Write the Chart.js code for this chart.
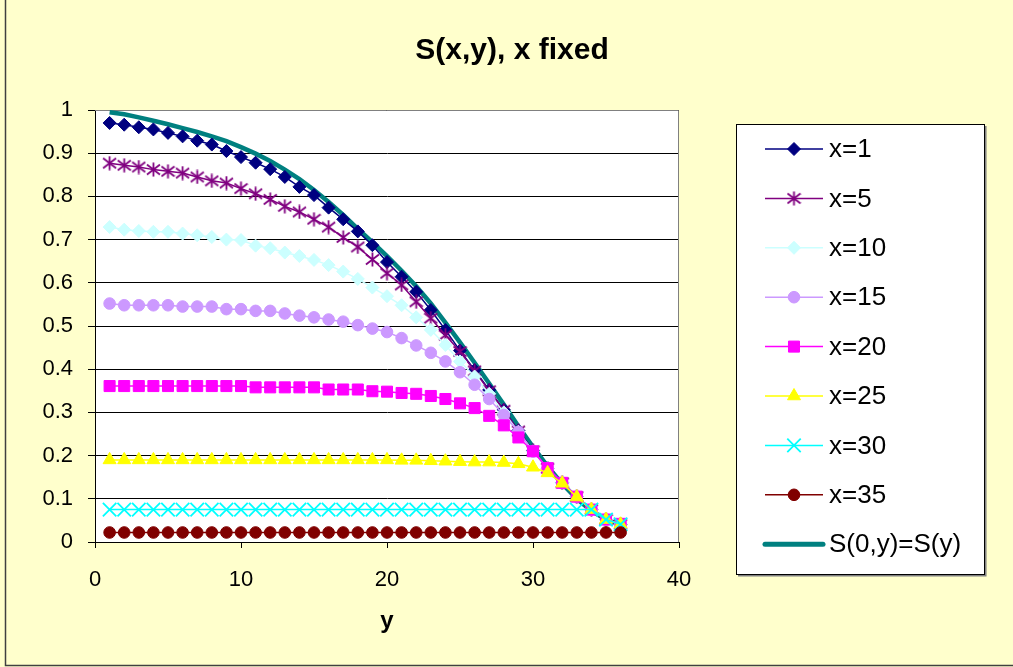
<!DOCTYPE html>
<html>
<head>
<meta charset="utf-8">
<script src="https://cdn.jsdelivr.net/npm/chart.js@4/dist/chart.umd.min.js"></script>
<style>
  html, body { margin: 0; padding: 0; background: #FFFFCC; }
  canvas { display: block; }
</style>
</head>
<body>
<canvas id="c" width="1013" height="667"></canvas>
<script>
// ---------- data ----------
const categories = [1,2,3,4,5,6,7,8,9,10,11,12,13,14,15,16,17,18,19,20,21,22,23,24,25,26,27,28,29,30,31,32,33,34,35,36];

const seriesX1 = [0.970,0.966,0.960,0.955,0.947,0.939,0.929,0.920,0.905,0.891,0.878,0.863,0.845,0.822,0.803,0.774,0.747,0.719,0.687,0.648,0.614,0.579,0.537,0.491,0.443,0.398,0.352,0.306,0.258,0.212,0.171,0.137,0.105,0.075,0.052,0.041];
const seriesX5 = [0.877,0.872,0.868,0.862,0.858,0.854,0.845,0.836,0.831,0.818,0.806,0.793,0.777,0.764,0.747,0.729,0.705,0.683,0.654,0.622,0.595,0.556,0.518,0.479,0.441,0.396,0.350,0.305,0.257,0.211,0.171,0.137,0.105,0.075,0.052,0.041];
const seriesX10 = [0.729,0.723,0.720,0.718,0.718,0.714,0.710,0.706,0.700,0.699,0.686,0.680,0.670,0.662,0.653,0.641,0.626,0.609,0.589,0.569,0.548,0.520,0.491,0.456,0.418,0.383,0.343,0.300,0.255,0.210,0.171,0.137,0.105,0.075,0.052,0.041];
const seriesX15 = [0.552,0.548,0.548,0.548,0.548,0.545,0.545,0.545,0.539,0.539,0.535,0.535,0.529,0.524,0.520,0.515,0.510,0.502,0.494,0.486,0.472,0.455,0.438,0.418,0.393,0.364,0.331,0.294,0.255,0.210,0.171,0.137,0.105,0.075,0.052,0.041];
const seriesX20 = [0.361,0.361,0.361,0.361,0.361,0.361,0.361,0.361,0.361,0.361,0.358,0.358,0.358,0.358,0.358,0.353,0.353,0.353,0.349,0.348,0.345,0.343,0.338,0.331,0.321,0.310,0.292,0.270,0.242,0.210,0.171,0.137,0.105,0.075,0.052,0.042];
const seriesX25 = [0.190,0.190,0.190,0.190,0.190,0.190,0.190,0.190,0.190,0.190,0.190,0.190,0.190,0.190,0.190,0.190,0.190,0.190,0.190,0.190,0.189,0.189,0.188,0.187,0.186,0.185,0.185,0.184,0.181,0.173,0.160,0.136,0.104,0.075,0.052,0.041];
const seriesX30 = [0.075,0.075,0.075,0.075,0.075,0.075,0.075,0.075,0.075,0.075,0.075,0.075,0.075,0.075,0.075,0.075,0.075,0.075,0.075,0.075,0.075,0.075,0.075,0.075,0.075,0.075,0.075,0.075,0.075,0.075,0.075,0.075,0.075,0.075,0.052,0.041];
const seriesX35 = [0.022,0.022,0.022,0.022,0.022,0.022,0.022,0.022,0.022,0.022,0.022,0.022,0.022,0.022,0.022,0.022,0.022,0.022,0.022,0.022,0.022,0.022,0.022,0.022,0.022,0.022,0.022,0.022,0.022,0.022,0.022,0.022,0.022,0.022,0.022,0.022];
const seriesS0 = [0.995,0.990,0.983,0.975,0.967,0.958,0.949,0.939,0.928,0.914,0.899,0.882,0.862,0.840,0.815,0.787,0.757,0.725,0.694,0.662,0.628,0.592,0.552,0.508,0.462,0.415,0.367,0.318,0.268,0.220,0.175,0.135,0.100,0.072,0.052,0.040];

const seriesLabels = ['x=1','x=5','x=10','x=15','x=20','x=25','x=30','x=35','S(0,y)=S(y)'];
const xTickValues = [0,10,20,30,40];
const yTickValues = [0,0.1,0.2,0.3,0.4,0.5,0.6,0.7,0.8,0.9,1];
const chartTitle = 'S(x,y), x fixed';
const xAxisTitle = 'y';

// ---------- styles ----------
const FONT = 'Liberation Sans, Arial, sans-serif';

function makeAsterisk(color, size) {
  const c = document.createElement('canvas');
  c.width = size; c.height = size;
  const g = c.getContext('2d');
  g.strokeStyle = color;
  g.lineWidth = 1.8;
  const m = size / 2;
  g.beginPath();
  g.moveTo(m, 0.5); g.lineTo(m, size - 0.5);
  g.moveTo(1, 2.5); g.lineTo(size - 1, size - 2.5);
  g.moveTo(size - 1, 2.5); g.lineTo(1, size - 2.5);
  g.stroke();
  return c;
}

const styles = [
  {color:'#000080', fill:'#000080', style:'rectRot',  r:6.5, bw:1.5},
  {color:'#800080', fill:'#800080', style:makeAsterisk('#800080', 15), r:7.5, bw:1.5},
  {color:'#CCFFFF', fill:'#CCFFFF', style:'rectRot',  r:6.5, bw:1.5},
  {color:'#CC99FF', fill:'#CC99FF', style:'circle',   r:5.8, bw:1.5},
  {color:'#FF00FF', fill:'#FF00FF', style:'rect',     r:7.8, bw:1.5},
  {color:'#FFFF00', fill:'#FFFF00', style:'triangle', r:7.5, bw:1.5},
  {color:'#00FFFF', fill:'#00FFFF', style:'crossRot', r:9.5, bw:1.5},
  {color:'#800000', fill:'#800000', style:'circle',   r:5.8, bw:1.5},
  {color:'#008080', fill:'#008080', style:false,      r:0,   bw:4.5}
];
const allSeries = [seriesX1, seriesX5, seriesX10, seriesX15, seriesX20, seriesX25, seriesX30, seriesX35, seriesS0];

const datasets = allSeries.map((vals, i) => {
  const s = styles[i];
  return {
    label: seriesLabels[i],
    data: categories.map((c, k) => ({x: c, y: vals[k]})),
    borderColor: s.color,
    backgroundColor: s.fill,
    borderWidth: s.bw,
    pointStyle: s.style || 'circle',
    pointRadius: s.r,
    pointHoverRadius: s.r,
    pointBorderWidth: s.style === 'crossRot' ? 1.8 : 1,
    pointBorderColor: s.color,
    pointBackgroundColor: s.fill,
    tension: 0,
    clip: false,
    order: i === 8 ? 20 : (8 - i)
  };
});

function drawMarker(ctx, s, x, y) {
  if (!s.style) return;
  ctx.save();
  ctx.fillStyle = s.fill;
  ctx.strokeStyle = s.color;
  ctx.lineWidth = s.style === 'crossRot' ? 1.8 : 1;
  if (Chart.helpers && Chart.helpers.drawPoint) {
    Chart.helpers.drawPoint(ctx, {pointStyle: s.style, radius: s.r, rotation: 0, borderWidth: ctx.lineWidth}, x, y);
  } else {
    ctx.beginPath(); ctx.arc(x, y, s.r, 0, Math.PI * 2); ctx.fill();
  }
  ctx.restore();
}

const decor = {
  id: 'decor',
  beforeDraw(chart) {
    const {ctx, chartArea: a, width, height} = chart;
    ctx.save();
    ctx.fillStyle = '#FFFFCC';
    ctx.fillRect(0, 0, width, height);
    ctx.fillStyle = '#FFFFFF';
    ctx.fillRect(a.left, a.top, a.right - a.left, a.bottom - a.top);
    ctx.restore();
  },
  beforeDatasetsDraw(chart) {
    const {ctx, chartArea: a} = chart;
    ctx.save();
    ctx.strokeStyle = '#808080';
    ctx.lineWidth = 1;
    ctx.beginPath();
    ctx.moveTo(a.left, a.top + 0.5);
    ctx.lineTo(a.right - 0.5, a.top + 0.5);
    ctx.lineTo(a.right - 0.5, a.bottom);
    ctx.stroke();
    ctx.restore();
  },
  afterDraw(chart) {
    const {ctx, width, height} = chart;
    ctx.save();
    // title
    ctx.fillStyle = '#000';
    ctx.font = 'bold 30px ' + FONT;
    ctx.textAlign = 'center';
    ctx.textBaseline = 'middle';
    ctx.fillText(chartTitle, 512, 51);

    // legend box
    const L = {x: 736, y: 124, w: 248, h: 450, row0: 149, step: 49.4, lx0: 765, lx1: 823, tx: 829};
    ctx.fillStyle = '#FFFFFF';
    ctx.fillRect(L.x, L.y, L.w, L.h);
    ctx.strokeStyle = '#000';
    ctx.lineWidth = 1;
    ctx.strokeRect(L.x + 0.5, L.y + 0.5, L.w, L.h);
    ctx.strokeStyle = '#808080';
    ctx.lineWidth = 1.5;
    ctx.beginPath();
    ctx.moveTo(L.x + L.w + 1.8, L.y + 2);
    ctx.lineTo(L.x + L.w + 1.8, L.y + L.h + 1.8);
    ctx.lineTo(L.x + 2, L.y + L.h + 1.8);
    ctx.stroke();

    chart.data.datasets.forEach((ds, i) => {
      const s = styles[i];
      const y = L.row0 + i * L.step;
      ctx.save();
      ctx.strokeStyle = s.color;
      ctx.lineWidth = s.style ? 1.5 : 5;
      ctx.lineCap = s.style ? 'butt' : 'round';
      ctx.beginPath();
      ctx.moveTo(L.lx0, y);
      ctx.lineTo(L.lx1, y);
      ctx.stroke();
      ctx.restore();
      drawMarker(ctx, s, (L.lx0 + L.lx1) / 2, y);
      ctx.fillStyle = '#000';
      ctx.font = '26px ' + FONT;
      ctx.textAlign = 'left';
      ctx.textBaseline = 'middle';
      ctx.fillText(ds.label, L.tx, y + 1);
    });

    // outer border
    ctx.strokeStyle = '#404040';
    ctx.lineWidth = 1.5;
    ctx.beginPath();
    ctx.moveTo(5.5, 0);
    ctx.lineTo(5.5, 665.5);
    ctx.lineTo(width, 665.5);
    ctx.stroke();
    ctx.restore();
  }
};

new Chart(document.getElementById('c'), {
  type: 'line',
  data: { datasets },
  options: {
    responsive: false,
    animation: false,
    devicePixelRatio: 1,
    layout: { padding: { left: 0, right: 334, top: 110, bottom: 0 } },
    plugins: { legend: { display: false }, tooltip: { enabled: false }, title: { display: false } },
    events: [],
    scales: {
      x: {
        type: 'linear',
        min: 0, max: 40,
        afterBuildTicks: s => { s.ticks = xTickValues.map(v => ({value: v})); },
        afterFit: s => { s.height = 125; },
        grid: { drawOnChartArea: false, drawTicks: true, tickLength: 6, color: '#000', lineWidth: 1 },
        border: { display: true, color: '#000', width: 1 },
        ticks: { color: '#000', font: { family: FONT, size: 22 }, padding: 19, maxRotation: 0, autoSkip: false },
        title: { display: true, text: xAxisTitle, color: '#000', font: { family: FONT, size: 24, weight: 'bold' }, padding: { top: 0, bottom: 31 } }
      },
      y: {
        type: 'linear',
        min: 0, max: 1,
        afterBuildTicks: s => { s.ticks = yTickValues.map(v => ({value: v})); },
        afterFit: s => { s.width = 95; },
        grid: { drawOnChartArea: true, drawTicks: true, tickLength: 7, color: '#000', lineWidth: 1 },
        border: { display: true, color: '#000', width: 1 },
        ticks: { color: '#000', font: { family: FONT, size: 22 }, padding: 15, callback: v => String(+Number(v).toFixed(1)) }
      }
    }
  },
  plugins: [decor]
});
</script>
</body>
</html>
